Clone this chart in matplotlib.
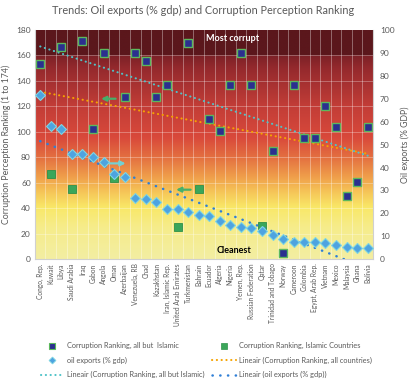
import numpy as np
import matplotlib.pyplot as plt
from matplotlib.colors import LinearSegmentedColormap
from matplotlib.lines import Line2D

plt.rcParams['font.family'] = ['Lato', 'DejaVu Sans']

countries = ['Congo, Rep.', 'Kuwait', 'Libya', 'Saudi Arabia', 'Iraq', 'Gabon', 'Angola', 'Oman',
             'Azerbaijan', 'Venezuela, RB', 'Chad', 'Kazakhstan', 'Iran, Islamic Rep.',
             'United Arab Emirates', 'Turkmenistan', 'Bahrain', 'Ecuador', 'Algeria', 'Nigeria',
             'Yemen, Rep.', 'Russian Federation', 'Qatar', 'Trinidad and Tobago', 'Norway',
             'Cameroon', 'Colombia', 'Egypt, Arab Rep.', 'Vietnam', 'Mexico', 'Malaysia',
             'Ghana', 'Bolivia']
islamic = [0, 1, 0, 1, 0, 0, 0, 1, 0, 0, 0, 0, 0, 1, 0, 1,
           0, 0, 0, 0, 0, 1, 0, 0, 0, 0, 0, 0, 0, 0, 0, 0]
corruption = [153, 67, 167, 55, 171, 102, 162, 64, 127, 162, 156, 127, 137, 25, 170, 55,
              110, 101, 137, 162, 137, 26, 85, 5, 137, 95, 95, 120, 104, 50, 61, 104]
oil = [71.5, 58, 56.6, 45.7, 45.7, 44.4, 42.3, 37.3, 36, 26.7, 26.3, 24.8, 21.8, 21.8, 20.5, 19.3,
       18.9, 16.8, 14.9, 13.9, 13.5, 12.3, 10.6, 8.8, 7.7, 7.7, 7.7, 7.0, 6.1, 5.5, 5.0, 5.0]

x = np.arange(len(countries))
corr = np.array(corruption, dtype=float)
isl = np.array(islamic, dtype=bool)
oil = np.array(oil)

navy = '#2b2f8f'
green_edge = '#5cb85c'
green = '#3aa65a'
diamond = '#4ea3e0'
diamond_edge = '#7fd6e2'
orange = '#f5a300'
cyan = '#4fc3c8'
blue = '#2f7fd6'
grey = '#595959'

fig = plt.figure(figsize=(4.11, 3.79), dpi=100)
ax = fig.add_axes([0.085, 0.316, 0.8225, 0.605])

# background gradient: pale yellow (clean) -> dark red (corrupt)
stops = [(0, '#f3eea2'), (25, '#f6ec8a'), (40, '#f9e868'), (52, '#f6c658'), (65, '#ef9c4a'),
         (80, '#e36e40'), (95, '#d9493b'), (120, '#c23d37'), (150, '#94292d'),
         (159.5, '#7c2127'), (160, '#5b171c'), (180, '#5b171c')]
cmap = LinearSegmentedColormap.from_list('bg', [(v / 180, c) for v, c in stops])
grad = np.linspace(0, 1, 720).reshape(-1, 1)
ax.imshow(grad, cmap=cmap, origin='lower', aspect='auto',
          extent=[-0.5, len(x) - 0.5, 0, 180], zorder=0)

for b in np.arange(-0.5, len(x), 1.0):
    ax.axvline(b, color='white', alpha=0.35, lw=0.7, zorder=1)
for h in range(20, 180, 20):
    ax.axhline(h, color='white', alpha=0.3, lw=0.7, zorder=1)

ax.set_xlim(-0.5, len(x) - 0.5)
ax.set_ylim(0, 180)
ax.set_yticks(range(0, 181, 20))

# linear trends
p_all = np.polyfit(x, corr, 1)
p_non = np.polyfit(x[~isl], corr[~isl], 1)
ax.plot(x, np.polyval(p_all, x), color=orange, lw=1.5, ls=(0, (0.1, 2.2)),
        dash_capstyle='round', zorder=3)
ax.plot(x, np.polyval(p_non, x), color=cyan, lw=1.5, ls=(0, (0.1, 2.2)),
        dash_capstyle='round', zorder=3)

ax.plot(x[~isl], corr[~isl], 's', ms=5.5, mfc=navy, mec=green_edge, mew=1.0, zorder=4)
ax.plot(x[isl], corr[isl], 's', ms=6, mfc=green, mec='#2e9149', mew=0.6, zorder=4)

ax.annotate('', xy=(5.5, 126), xytext=(7.4, 126),
            arrowprops=dict(arrowstyle='-|>', color='#46b06a', lw=1.6, mutation_scale=7), zorder=5)
ax.annotate('', xy=(12.6, 54.6), xytext=(14.5, 54.6),
            arrowprops=dict(arrowstyle='-|>', color='#46b06a', lw=1.6, mutation_scale=7), zorder=5)

ax.text(18.2, 173.5, 'Most corrupt', color='white', fontsize=6.5, fontweight='bold',
        ha='center', va='center')
ax.text(18.3, 6.5, 'Cleanest', color='black', fontsize=6.5, fontweight='bold',
        ha='center', va='center')

ax.set_xticks(x)
ax.set_xticklabels(countries, rotation=90, fontsize=4.8, color=grey)
ax.tick_params(axis='both', length=0, pad=3)
ax.tick_params(axis='y', labelsize=6, colors=grey)
ax.set_ylabel('Corruption Perception Ranking (1 to 174)', fontsize=6.3, color=grey, labelpad=4)
for s in ['top', 'right']:
    ax.spines[s].set_visible(False)
for s in ['left', 'bottom']:
    ax.spines[s].set_color('#d0d0d0')

ax2 = ax.twinx()
ax2.set_ylim(0, 100)
ax2.set_yticks(range(0, 101, 10))
p_oil = np.polyfit(x, oil, 1)
ax2.plot(x, np.polyval(p_oil, x), color=blue, lw=1.8, ls=(0, (0.1, 3.0)),
         dash_capstyle='round', zorder=3)
ax2.plot(x, oil, 'D', ms=5, mfc=diamond, mec=diamond_edge, mew=0.8, zorder=4)
ax2.annotate('', xy=(8.35, 41.8), xytext=(6.3, 41.8),
             arrowprops=dict(arrowstyle='-|>', color='#74d0d2', lw=1.6, mutation_scale=7))
ax2.tick_params(axis='y', length=0, labelsize=6, colors=grey, pad=5)
ax2.set_ylabel('Oil exports (% GDP)', fontsize=6.3, color=grey, labelpad=4)
for s in ['top', 'left', 'bottom']:
    ax2.spines[s].set_visible(False)
ax2.spines['right'].set_color('#d0d0d0')

fig.text(0.495, 0.973, 'Trends: Oil exports (% gdp) and Corruption Perception Ranking',
         ha='center', va='center', fontsize=7.8, color=grey)

h_non = Line2D([], [], ls='none', marker='s', ms=4, mfc=navy, mec=green_edge, mew=0.8)
h_isl = Line2D([], [], ls='none', marker='s', ms=4.5, mfc=green, mec='#2e9149', mew=0.5)
h_oil = Line2D([], [], ls='none', marker='D', ms=3.5, mfc=diamond, mec=diamond_edge, mew=0.6)
h_all_t = Line2D([], [], color=orange, lw=1.5, ls=(0, (0.1, 2.2)), dash_capstyle='round')
h_non_t = Line2D([], [], color=cyan, lw=1.5, ls=(0, (0.1, 2.2)), dash_capstyle='round')
h_oil_t = Line2D([], [], color=blue, lw=1.8, ls=(0, (0.1, 3.0)), dash_capstyle='round')
handles = [h_non, h_oil, h_non_t, h_isl, h_all_t, h_oil_t]
labels = ['Corruption Ranking, all but  Islamic', 'oil exports (% gdp)',
          'Lineair (Corruption Ranking, all but Islamic)',
          'Corruption Ranking, Islamic Countries', 'Lineair (Corruption Ranking, all countries)',
          'Lineair (oil exports (% gdp))']
fig.legend(handles, labels, ncol=2, loc='upper left', bbox_to_anchor=(0.09, 0.107),
           frameon=False, fontsize=5.3, labelcolor=grey, handlelength=3.2,
           columnspacing=1.0, handletextpad=0.4, labelspacing=1.0, borderpad=0)

fig.savefig('out.png', dpi=100)
